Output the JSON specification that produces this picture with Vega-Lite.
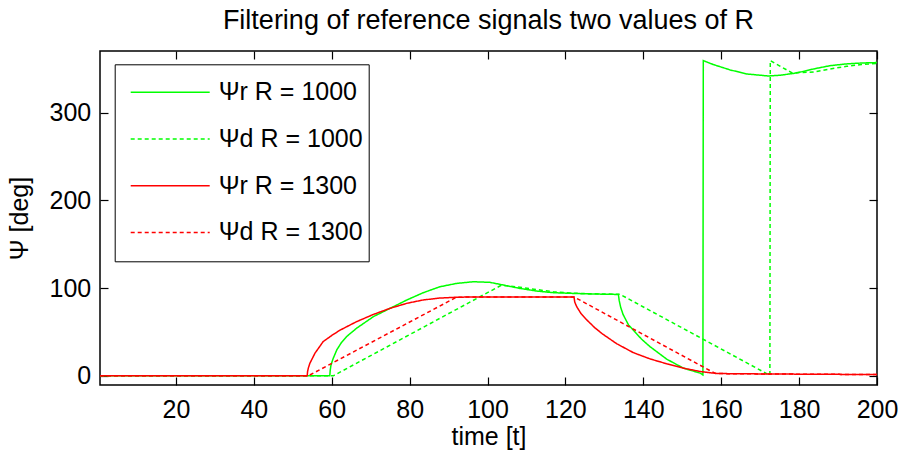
{
  "$schema": "https://vega.github.io/schema/vega-lite/v6.json",
  "width": 777,
  "height": 334,
  "autosize": {"type": "none"},
  "padding": {"left": 100, "top": 51, "right": 26, "bottom": 72},
  "background": "white",
  "title": {"text": "Filtering of reference signals two values of R", "fontSize": 27, "font": "Liberation Sans", "fontWeight": "normal", "color": "black", "offset": 15, "anchor": "middle"},
  "config": {
    "view": {"stroke": "black", "strokeWidth": 1.5},
    "axis": {"labelFont": "Liberation Sans", "labelFontSize": 25, "labelColor": "black", "titleFont": "Liberation Sans", "titleFontSize": 25, "titleFontWeight": "normal", "titleColor": "black", "tickColor": "black", "tickWidth": 1.2, "grid": false, "domain": false, "labelFlush": false, "labelOverlap": false}
  },
  "data": {"values": [
    {"s": "Ψr R = 1000", "t": 0.5, "v": 0}, {"s": "Ψr R = 1000", "t": 59.5, "v": 0}, {"s": "Ψr R = 1000", "t": 59.6, "v": 6}, {"s": "Ψr R = 1000", "t": 59.8, "v": 12}, {"s": "Ψr R = 1000", "t": 60.3, "v": 19}, {"s": "Ψr R = 1000", "t": 61.3, "v": 29.6}, {"s": "Ψr R = 1000", "t": 62.5, "v": 38}, {"s": "Ψr R = 1000", "t": 63.8, "v": 44.7}, {"s": "Ψr R = 1000", "t": 66.4, "v": 54.3}, {"s": "Ψr R = 1000", "t": 70.7, "v": 67.5}, {"s": "Ψr R = 1000", "t": 75, "v": 77}, {"s": "Ψr R = 1000", "t": 79.3, "v": 86.5}, {"s": "Ψr R = 1000", "t": 83.5, "v": 94.8}, {"s": "Ψr R = 1000", "t": 87.8, "v": 101.6}, {"s": "Ψr R = 1000", "t": 92.1, "v": 105.4}, {"s": "Ψr R = 1000", "t": 96.4, "v": 107.3}, {"s": "Ψr R = 1000", "t": 100.6, "v": 106.6}, {"s": "Ψr R = 1000", "t": 104.1, "v": 103.5}, {"s": "Ψr R = 1000", "t": 108.3, "v": 99.7}, {"s": "Ψr R = 1000", "t": 112.6, "v": 96.7}, {"s": "Ψr R = 1000", "t": 116.9, "v": 94.8}, {"s": "Ψr R = 1000", "t": 121.2, "v": 94.1}, {"s": "Ψr R = 1000", "t": 127, "v": 93.3}, {"s": "Ψr R = 1000", "t": 133.6, "v": 92.8}, {"s": "Ψr R = 1000", "t": 133.8, "v": 86}, {"s": "Ψr R = 1000", "t": 134.2, "v": 78}, {"s": "Ψr R = 1000", "t": 134.8, "v": 70}, {"s": "Ψr R = 1000", "t": 136.2, "v": 58}, {"s": "Ψr R = 1000", "t": 137.4, "v": 52.3}, {"s": "Ψr R = 1000", "t": 139.5, "v": 42}, {"s": "Ψr R = 1000", "t": 141.7, "v": 33.3}, {"s": "Ψr R = 1000", "t": 146, "v": 19}, {"s": "Ψr R = 1000", "t": 150.3, "v": 8.7}, {"s": "Ψr R = 1000", "t": 154.6, "v": 3}, {"s": "Ψr R = 1000", "t": 155.3, "v": 1}, {"s": "Ψr R = 1000", "t": 155.4, "v": 359.5}, {"s": "Ψr R = 1000", "t": 158, "v": 355}, {"s": "Ψr R = 1000", "t": 162.3, "v": 348.9}, {"s": "Ψr R = 1000", "t": 166.6, "v": 344.3}, {"s": "Ψr R = 1000", "t": 172.1, "v": 342}, {"s": "Ψr R = 1000", "t": 175.1, "v": 342.8}, {"s": "Ψr R = 1000", "t": 179.4, "v": 345.5}, {"s": "Ψr R = 1000", "t": 183.7, "v": 350}, {"s": "Ψr R = 1000", "t": 188, "v": 353.8}, {"s": "Ψr R = 1000", "t": 192.2, "v": 355.8}, {"s": "Ψr R = 1000", "t": 196, "v": 356.8}, {"s": "Ψr R = 1000", "t": 200, "v": 357.3},
    {"s": "Ψd R = 1000", "t": 0.5, "v": 0}, {"s": "Ψd R = 1000", "t": 60.4, "v": 0}, {"s": "Ψd R = 1000", "t": 103.5, "v": 103.2}, {"s": "Ψd R = 1000", "t": 106, "v": 102.3}, {"s": "Ψd R = 1000", "t": 108.3, "v": 101}, {"s": "Ψd R = 1000", "t": 112.6, "v": 98.4}, {"s": "Ψd R = 1000", "t": 116.9, "v": 95.8}, {"s": "Ψd R = 1000", "t": 121.2, "v": 94.4}, {"s": "Ψd R = 1000", "t": 127, "v": 93.5}, {"s": "Ψd R = 1000", "t": 134, "v": 93}, {"s": "Ψd R = 1000", "t": 172.5, "v": 0.5}, {"s": "Ψd R = 1000", "t": 172.6, "v": 359.5}, {"s": "Ψd R = 1000", "t": 178.2, "v": 345.5}, {"s": "Ψd R = 1000", "t": 183.7, "v": 346.5}, {"s": "Ψd R = 1000", "t": 188, "v": 350}, {"s": "Ψd R = 1000", "t": 192.2, "v": 353}, {"s": "Ψd R = 1000", "t": 196, "v": 355}, {"s": "Ψd R = 1000", "t": 200, "v": 356.4},
    {"s": "Ψr R = 1300", "t": 0.5, "v": 0}, {"s": "Ψr R = 1300", "t": 53.7, "v": 0}, {"s": "Ψr R = 1300", "t": 53.8, "v": 5}, {"s": "Ψr R = 1300", "t": 54, "v": 9}, {"s": "Ψr R = 1300", "t": 54.4, "v": 14.4}, {"s": "Ψr R = 1300", "t": 55.7, "v": 25.8}, {"s": "Ψr R = 1300", "t": 57.8, "v": 39}, {"s": "Ψr R = 1300", "t": 60, "v": 46}, {"s": "Ψr R = 1300", "t": 62.1, "v": 52}, {"s": "Ψr R = 1300", "t": 66.4, "v": 61.8}, {"s": "Ψr R = 1300", "t": 70.7, "v": 70}, {"s": "Ψr R = 1300", "t": 75, "v": 77}, {"s": "Ψr R = 1300", "t": 79.3, "v": 82.7}, {"s": "Ψr R = 1300", "t": 83.5, "v": 86.5}, {"s": "Ψr R = 1300", "t": 87.8, "v": 88.7}, {"s": "Ψr R = 1300", "t": 92.1, "v": 89.6}, {"s": "Ψr R = 1300", "t": 97, "v": 90}, {"s": "Ψr R = 1300", "t": 122.2, "v": 90}, {"s": "Ψr R = 1300", "t": 122.4, "v": 84}, {"s": "Ψr R = 1300", "t": 122.9, "v": 78.8}, {"s": "Ψr R = 1300", "t": 124, "v": 71}, {"s": "Ψr R = 1300", "t": 125.5, "v": 63.7}, {"s": "Ψr R = 1300", "t": 127.5, "v": 55}, {"s": "Ψr R = 1300", "t": 129.5, "v": 47.8}, {"s": "Ψr R = 1300", "t": 133.2, "v": 36.5}, {"s": "Ψr R = 1300", "t": 137.4, "v": 26.5}, {"s": "Ψr R = 1300", "t": 141.7, "v": 19.3}, {"s": "Ψr R = 1300", "t": 146, "v": 13.7}, {"s": "Ψr R = 1300", "t": 150.3, "v": 8.7}, {"s": "Ψr R = 1300", "t": 154.6, "v": 4.9}, {"s": "Ψr R = 1300", "t": 158.9, "v": 2.6}, {"s": "Ψr R = 1300", "t": 165, "v": 2.3}, {"s": "Ψr R = 1300", "t": 175, "v": 2}, {"s": "Ψr R = 1300", "t": 187, "v": 1.7}, {"s": "Ψr R = 1300", "t": 200, "v": 1.4},
    {"s": "Ψd R = 1300", "t": 0.5, "v": 0}, {"s": "Ψd R = 1300", "t": 54, "v": 0}, {"s": "Ψd R = 1300", "t": 92, "v": 89.6}, {"s": "Ψd R = 1300", "t": 97, "v": 90}, {"s": "Ψd R = 1300", "t": 122.2, "v": 90}, {"s": "Ψd R = 1300", "t": 158.5, "v": 2.6}, {"s": "Ψd R = 1300", "t": 165, "v": 2.3}, {"s": "Ψd R = 1300", "t": 175, "v": 2}, {"s": "Ψd R = 1300", "t": 187, "v": 1.7}, {"s": "Ψd R = 1300", "t": 200, "v": 1.4}
  ]},
  "layer": [
    {
      "mark": {"type": "line", "strokeWidth": 1.5, "clip": true},
      "encoding": {
        "x": {"field": "t", "type": "quantitative", "scale": {"domain": [0.5, 200], "nice": false, "zero": false},
              "axis": {"title": "time [t]", "values": [20, 40, 60, 80, 100, 120, 140, 160, 180, 200], "tickSize": -8, "labelPadding": 20.7, "titlePadding": 2}},
        "y": {"field": "v", "type": "quantitative", "scale": {"domain": [-10.5, 370.5], "nice": false, "zero": false},
              "axis": {"title": "Ψ [deg]", "values": [0, 100, 200, 300], "tickSize": -8, "labelPadding": 17.3, "titlePadding": 16}},
        "color": {"field": "s", "type": "nominal",
                  "scale": {"domain": ["Ψr R = 1000", "Ψd R = 1000", "Ψr R = 1300", "Ψd R = 1300"], "range": ["#00ff00", "#00ff00", "#ff0000", "#ff0000"]},
                  "legend": {"orient": "none", "legendX": 14.7, "legendY": 13.3, "title": null, "direction": "vertical", "symbolType": "stroke", "symbolSize": 6241, "symbolStrokeWidth": 1.5, "clipHeight": 44, "rowPadding": 2.7, "padding": 6, "symbolOffset": 9, "labelOffset": 8, "labelFontSize": 25, "labelFont": "Liberation Sans", "labelColor": "black", "strokeColor": "black", "fillColor": "white", "labelLimit": 400}},
        "strokeDash": {"field": "s", "type": "nominal",
                  "scale": {"domain": ["Ψr R = 1000", "Ψd R = 1000", "Ψr R = 1300", "Ψd R = 1300"], "range": [[1, 0], [4, 3], [1, 0], [4, 3]]},
                  "legend": {"orient": "none", "legendX": 14.7, "legendY": 13.3, "title": null, "direction": "vertical", "symbolType": "stroke", "symbolSize": 6241, "symbolStrokeWidth": 1.5, "clipHeight": 44, "rowPadding": 2.7, "padding": 6, "symbolOffset": 9, "labelOffset": 8, "labelFontSize": 25, "labelFont": "Liberation Sans", "labelColor": "black", "strokeColor": "black", "fillColor": "white", "labelLimit": 400}}
      }
    },
    {
      "mark": {"type": "point", "opacity": 0},
      "encoding": {
        "x": {"field": "t", "type": "quantitative", "scale": {"domain": [0.5, 200], "nice": false, "zero": false}, "axis": {"orient": "top", "title": null, "labels": false, "values": [20, 40, 60, 80, 100, 120, 140, 160, 180, 200], "tickSize": -8}},
        "y": {"field": "v", "type": "quantitative", "scale": {"domain": [-10.5, 370.5], "nice": false, "zero": false}, "axis": {"orient": "right", "title": null, "labels": false, "values": [0, 100, 200, 300], "tickSize": -8}}
      }
    }
  ],
  "resolve": {"axis": {"x": "independent", "y": "independent"}}
}
